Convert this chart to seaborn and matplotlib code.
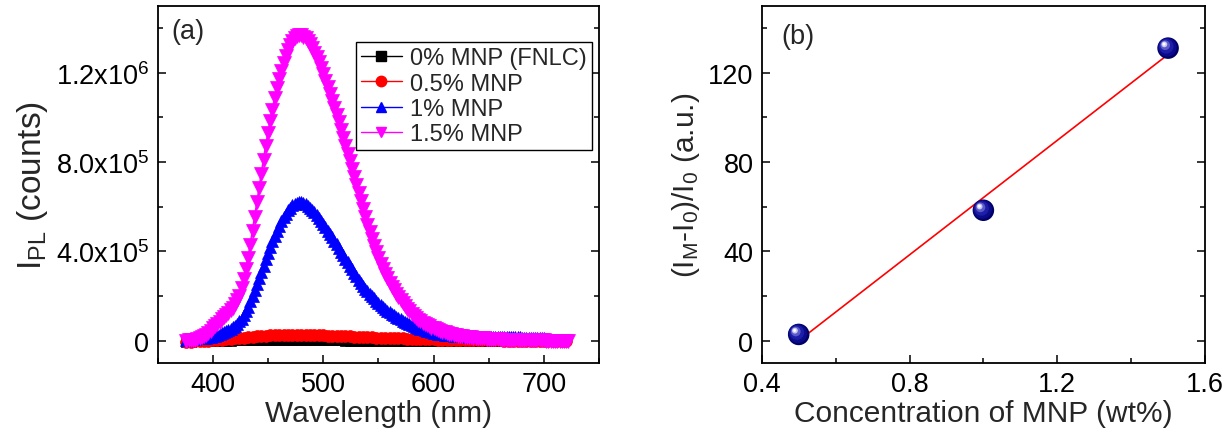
import numpy as np
import pandas as pd
import matplotlib
matplotlib.use("Agg")
import matplotlib.pyplot as plt
import matplotlib.transforms as mtransforms
from matplotlib.ticker import FuncFormatter, MultipleLocator
from matplotlib.lines import Line2D
import seaborn as sns

# ---------------- data ----------------
# PL spectra, intensities in units of 1e5 counts
wl_start = 376
pl_0_e5 = [  # 0% MNP (FNLC), 4 nm steps
    -0.04, -0.04, -0.03, -0.03, -0.03, -0.02, -0.02, -0.01, -0.01, 0.00,
    0.00, 0.01, 0.01, 0.02, 0.02, 0.03, 0.03, 0.04, 0.04, 0.04,
    0.05, 0.05, 0.05, 0.05, 0.05, 0.05, 0.05, 0.04, 0.04, 0.04,
    0.03, 0.03, 0.02, 0.02, 0.01, 0.01, 0.00,
    -0.01, -0.01, -0.01, -0.01, -0.01, -0.01, -0.01, -0.01, -0.01,
    -0.02, -0.02, -0.02, -0.02, -0.02, -0.02, -0.02, -0.02, -0.02, -0.02,
    -0.02, -0.02, -0.02, -0.02, -0.02, -0.02, -0.02, -0.02, -0.02, -0.02,
    -0.02, -0.02, -0.02, -0.02, -0.02, -0.02, -0.02, -0.02, -0.02, -0.02,
    -0.02, -0.02, -0.02, -0.02, -0.02, -0.02,
]
pl_05_e5 = [  # 0.5% MNP, 4 nm steps
    -0.05, -0.04, -0.03, -0.02, -0.01, 0.00, 0.01, 0.03, 0.04, 0.06,
    0.08, 0.10, 0.12, 0.14, 0.16, 0.18, 0.19, 0.21, 0.22, 0.24,
    0.25, 0.26, 0.26, 0.27, 0.27, 0.27, 0.27, 0.27, 0.26, 0.26,
    0.25, 0.24, 0.23, 0.22, 0.22, 0.21, 0.20, 0.19, 0.18, 0.17,
    0.17, 0.16, 0.15, 0.14, 0.14, 0.13, 0.12, 0.11, 0.11, 0.10,
    0.09, 0.08, 0.08, 0.07, 0.07, 0.06, 0.06, 0.05, 0.05, 0.05,
    0.04, 0.04, 0.03, 0.03, 0.03, 0.02, 0.02, 0.02, 0.01, 0.01,
    0.01, 0.01, 0.00, 0.00, 0.00, 0.00, 0.00, 0.00, -0.01, -0.01,
    -0.01, -0.01, -0.01, -0.02, -0.02, -0.02, -0.02,
]
pl_1_e5 = [  # 1% MNP, 2 nm steps
    0.05, 0.06, 0.07, 0.08, 0.09, 0.10, 0.11, 0.12, 0.13, 0.14,
    0.16, 0.18, 0.20, 0.23, 0.26, 0.30, 0.34, 0.38, 0.43, 0.48,
    0.54, 0.60, 0.67, 0.76, 0.86, 0.99, 1.14, 1.32, 1.53, 1.76,
    2.00, 2.25, 2.52, 2.80, 3.08, 3.36, 3.65, 3.94, 4.20, 4.46,
    4.70, 4.93, 5.14, 5.34, 5.52, 5.69, 5.84, 5.96, 6.06, 6.13,
    6.18, 6.20, 6.20, 6.17, 6.12, 6.05, 5.96, 5.86, 5.75, 5.63,
    5.50, 5.36, 5.22, 5.08, 4.93, 4.78, 4.63, 4.47, 4.31, 4.15,
    3.99, 3.83, 3.67, 3.51, 3.35, 3.19, 3.03, 2.88, 2.73, 2.59,
    2.45, 2.33, 2.22, 2.11, 2.00, 1.89, 1.79, 1.69, 1.60, 1.51,
    1.43, 1.35, 1.28, 1.21, 1.14, 1.07, 1.01, 0.95, 0.89, 0.84,
    0.79, 0.74, 0.70, 0.66, 0.62, 0.58, 0.54, 0.51, 0.48, 0.45,
    0.42, 0.39, 0.36, 0.34, 0.32, 0.30, 0.28, 0.27, 0.26, 0.25,
    0.24, 0.23, 0.22, 0.21, 0.20, 0.20, 0.19, 0.19, 0.18, 0.18,
    0.18, 0.17, 0.17, 0.17, 0.16, 0.16, 0.16, 0.16, 0.16, 0.15,
    0.15, 0.15, 0.15, 0.15, 0.15, 0.15, 0.15, 0.15, 0.15, 0.15,
    0.15, 0.15, 0.14, 0.14, 0.14, 0.14, 0.14, 0.14, 0.14, 0.14,
    0.14, 0.14, 0.14,
]
pl_15_e5 = [  # 1.5% MNP, 2 nm steps
    0.00, 0.01, 0.02, 0.03, 0.05, 0.08, 0.11, 0.15, 0.20, 0.26,
    0.35, 0.45, 0.55, 0.65, 0.75, 0.85, 0.95, 1.05, 1.15, 1.25,
    1.36, 1.48, 1.62, 1.80, 2.02, 2.35, 2.75, 3.20, 3.72, 4.30,
    4.92, 5.55, 6.20, 6.85, 7.48, 8.10, 8.72, 9.30, 9.84, 10.35,
    10.85, 11.30, 11.70, 12.08, 12.42, 12.75, 13.02, 13.25, 13.42, 13.56,
    13.66, 13.70, 13.68, 13.62, 13.54, 13.42, 13.28, 13.10, 12.90, 12.70,
    12.46, 12.20, 11.92, 11.64, 11.35, 11.05, 10.74, 10.42, 10.10, 9.77,
    9.43, 9.08, 8.73, 8.38, 8.03, 7.68, 7.33, 6.98, 6.62, 6.26,
    5.90, 5.55, 5.20, 4.88, 4.56, 4.25, 3.96, 3.70, 3.45, 3.22,
    3.00, 2.80, 2.60, 2.42, 2.25, 2.09, 1.94, 1.80, 1.67, 1.54,
    1.42, 1.31, 1.20, 1.10, 1.01, 0.93, 0.86, 0.80, 0.74, 0.69,
    0.64, 0.59, 0.55, 0.51, 0.47, 0.44, 0.41, 0.38, 0.35, 0.32,
    0.29, 0.27, 0.25, 0.23, 0.21, 0.20, 0.18, 0.17, 0.16, 0.15,
    0.14, 0.13, 0.12, 0.11, 0.10, 0.10, 0.09, 0.08, 0.08, 0.07,
    0.07, 0.06, 0.06, 0.05, 0.05, 0.05, 0.04, 0.04, 0.04, 0.03,
    0.03, 0.03, 0.03, 0.02, 0.02, 0.02, 0.02, 0.02, 0.01, 0.01,
    0.01, 0.01, 0.01, 0.00, 0.00, 0.00, 0.00, 0.00, 0.00, -0.01,
    -0.01, -0.01, -0.01, -0.01,
]
series_labels = ["0% MNP (FNLC)", "0.5% MNP", "1% MNP", "1.5% MNP"]
series_steps = [4, 4, 2, 2]
series_colors = ["#000000", "#ff0000", "#0000ff", "#ff00ff"]
series_markers = ["s", "o", "^", "v"]

# enhancement ratio vs MNP concentration
conc_wt = [0.5, 1.0, 1.5]
enhancement = [2.8, 58.4, 131.0]

# ---------------- style ----------------
sns.set_theme(style="ticks")
plt.rcParams["font.family"] = ["Liberation Sans", "DejaVu Sans"]
plt.rcParams["mathtext.default"] = "regular"
plt.rcParams["axes.linewidth"] = 1.3
plt.rcParams["xtick.direction"] = "in"
plt.rcParams["ytick.direction"] = "in"

TICK_FS = 19.5
LABEL_FS = 21.5
LEG_FS = 17

fig = plt.figure(figsize=(12.3, 4.35), dpi=100)
ax_a = fig.add_axes([0.1282, 0.1632, 0.3590, 0.8214])
ax_b = fig.add_axes([0.6193, 0.1632, 0.3604, 0.8214])


def style_axes(ax):
    ax.tick_params(which="both", direction="in", top=False, right=True,
                   labelsize=TICK_FS, width=1.1, colors="black", pad=6)
    ax.tick_params(which="major", length=6)
    ax.tick_params(which="minor", length=3.5)
    for s in ax.spines.values():
        s.set_visible(True)
        s.set_color("black")
        s.set_linewidth(1.3)


# ---------------- panel (a) ----------------
pl_series = [pl_0_e5, pl_05_e5, pl_1_e5, pl_15_e5]
frames = []
for lab, vals, step in zip(series_labels, pl_series, series_steps):
    wl = np.arange(wl_start, wl_start + step * len(vals), step)
    frames.append(pd.DataFrame({"wavelength": wl,
                                "counts": np.asarray(vals) * 1e5,
                                "sample": lab}))
pl_df = pd.concat(frames, ignore_index=True)

marker_sizes = [7.5, 8.5, 8.5, 9.5]
for lab, col, mk, ms in zip(series_labels, series_colors, series_markers, marker_sizes):
    sub = pl_df[pl_df["sample"] == lab]
    sns.lineplot(data=sub, x="wavelength", y="counts", ax=ax_a, color=col,
                 marker=mk, markersize=ms, markeredgecolor=col,
                 markeredgewidth=0.5, linewidth=1.5, legend=False,
                 estimator=None, sort=True)

ax_a.set_xlim(350, 750)
ax_a.set_ylim(-1e5, 1.5e6)
ax_a.xaxis.set_major_locator(MultipleLocator(100))
ax_a.xaxis.set_minor_locator(MultipleLocator(50))
ax_a.yaxis.set_major_locator(MultipleLocator(4e5))
ax_a.yaxis.set_minor_locator(MultipleLocator(2e5))


def sci_fmt(v, pos):
    if abs(v) < 1:
        return "0"
    exp = int(np.floor(np.log10(abs(v))))
    mant = v / 10 ** exp
    return r"%.1fx10$^{%d}$" % (mant, exp)


ax_a.yaxis.set_major_formatter(FuncFormatter(sci_fmt))
style_axes(ax_a)
ax_a.set_xlabel("Wavelength (nm)", fontsize=LABEL_FS, labelpad=1)
ax_a.set_ylabel(r"I$_{PL}$ (counts)", fontsize=LABEL_FS + 2.5, labelpad=4)
ax_a.text(0.032, 0.93, "(a)", transform=ax_a.transAxes, fontsize=19.5,
          ha="left", va="center")

handles = [Line2D([0], [0], color=c, marker=m, markersize=7.5, linewidth=1.0)
           for c, m in zip(series_colors, series_markers)]
leg = ax_a.legend(handles, series_labels, loc="upper right",
                  bbox_to_anchor=(0.983, 0.898), fontsize=LEG_FS,
                  frameon=True, fancybox=False, framealpha=1,
                  edgecolor="black", handlelength=1.7, handletextpad=0.35,
                  labelspacing=0.14, borderpad=0.22, borderaxespad=0)
leg.get_frame().set_linewidth(1.0)

# ---------------- panel (b) ----------------
enh_df = pd.DataFrame({"conc": conc_wt, "ratio": enhancement})
sns.regplot(data=enh_df, x="conc", y="ratio", ax=ax_b, scatter=False,
            ci=None, truncate=True, color="#ff0000",
            line_kws={"linewidth": 1.2, "zorder": 2})

# shaded spheres: dark base with lighter layers shifted toward the upper left
sphere_layers = [
    (0.0, 0.0, 15.5, "#000066"),
    (-0.6, 0.6, 13.5, "#0a0a8a"),
    (-1.3, 1.3, 10.5, "#1d1da8"),
    (-2.1, 2.1, 7.0, "#5a5ac8"),
    (-2.7, 2.7, 4.2, "#c8c8f0"),
    (-2.9, 2.9, 2.2, "#ffffff"),
]
for dx, dy, ms, col in sphere_layers:
    tr = mtransforms.offset_copy(ax_b.transData, fig=fig, x=dx, y=dy, units="points")
    sns.scatterplot(data=enh_df, x="conc", y="ratio", ax=ax_b, s=ms ** 2,
                    color=col, edgecolor="none", linewidth=0, zorder=3,
                    transform=tr, legend=False)

ax_b.set_xlim(0.4, 1.6)
ax_b.set_ylim(-10, 150)
ax_b.xaxis.set_major_locator(MultipleLocator(0.4))
ax_b.xaxis.set_minor_locator(MultipleLocator(0.2))
ax_b.yaxis.set_major_locator(MultipleLocator(40))
ax_b.yaxis.set_minor_locator(MultipleLocator(20))
ax_b.xaxis.set_major_formatter(FuncFormatter(lambda v, p: "%.1f" % v))
style_axes(ax_b)
ax_b.set_xlabel("Concentration of MNP (wt%)", fontsize=LABEL_FS, labelpad=1)
ax_b.set_ylabel(r"(I$_M$-I$_0$)/I$_0$ (a.u.)", fontsize=LABEL_FS, labelpad=4)
ax_b.text(0.045, 0.915, "(b)", transform=ax_b.transAxes, fontsize=19.5,
          ha="left", va="center")

fig.savefig("out.png", dpi=100)
